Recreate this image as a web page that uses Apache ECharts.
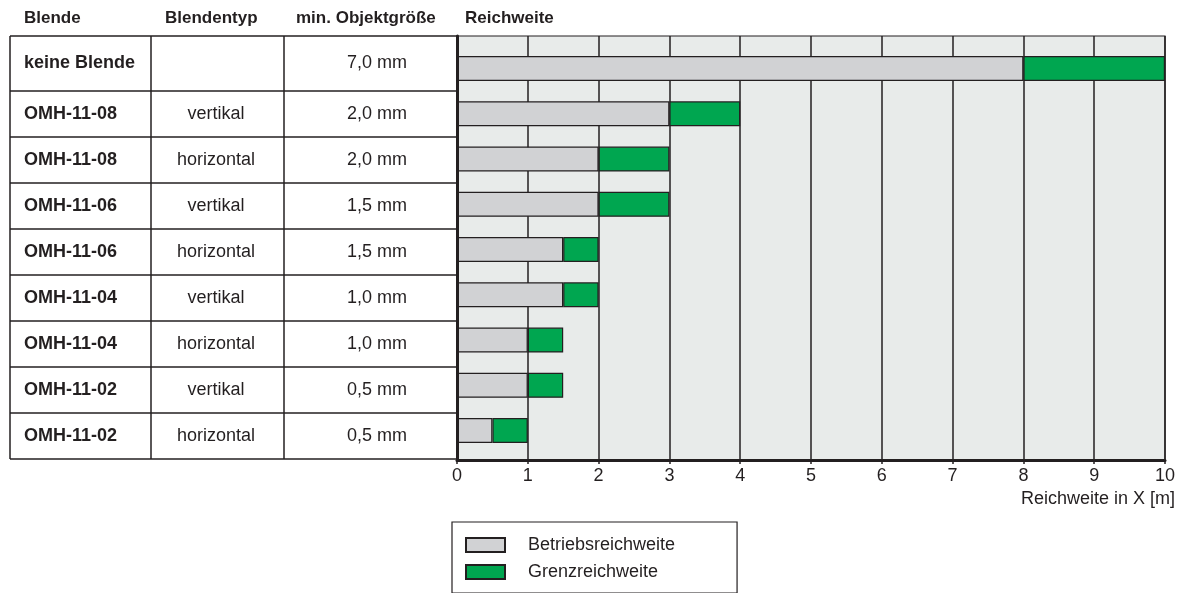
<!DOCTYPE html>
<html>
<head>
<meta charset="utf-8">
<script src="https://cdn.jsdelivr.net/npm/echarts@6/dist/echarts.min.js"></script>
<style>
  html, body { margin: 0; padding: 0; background: #fff; }
  #chart { width: 1181px; height: 593px; }
</style>
</head>
<body>
<div id="chart"></div>
<script>
// table columns
const blenden = ['keine Blende', 'OMH-11-08', 'OMH-11-08', 'OMH-11-06', 'OMH-11-06', 'OMH-11-04', 'OMH-11-04', 'OMH-11-02', 'OMH-11-02'];
const blendentyp = ['', 'vertikal', 'horizontal', 'vertikal', 'horizontal', 'vertikal', 'horizontal', 'vertikal', 'horizontal'];
const objektgroesse = ['7,0 mm', '2,0 mm', '2,0 mm', '1,5 mm', '1,5 mm', '1,0 mm', '1,0 mm', '0,5 mm', '0,5 mm'];
const headers = ['Blende', 'Blendentyp', 'min. Objektgröße', 'Reichweite'];

// range in m
const betriebsreichweite = [8, 3, 2, 2, 1.5, 1.5, 1, 1, 0.5];
const grenzreichweite = [10, 4, 3, 3, 2, 2, 1.5, 1.5, 1];
const grenzExtra = grenzreichweite.map((v, i) => v - betriebsreichweite[i]);
const xTicks = [0, 1, 2, 3, 4, 5, 6, 7, 8, 9, 10];

const FONT = '"Liberation Sans", Arial, Helvetica, sans-serif';
const INK = '#231f20';

// table layout
const rowLines = [36, 91, 137, 183, 229, 275, 321, 367, 413, 459];
const colLines = [10, 151, 284, 457];

const chart = echarts.init(document.getElementById('chart'));

const graphics = [];
// horizontal table lines
rowLines.forEach(y => {
  graphics.push({
    type: 'line', silent: true,
    shape: { x1: colLines[0], y1: y, x2: colLines[3], y2: y },
    style: { stroke: INK, lineWidth: 1.5 }
  });
});
// vertical table lines
colLines.slice(0, 3).forEach(x => {
  graphics.push({
    type: 'line', silent: true,
    shape: { x1: x, y1: rowLines[0], x2: x, y2: rowLines[rowLines.length - 1] },
    style: { stroke: INK, lineWidth: 1.5 }
  });
});
// headers
const headerX = [24, 165, 296, 465];
headers.forEach((h, i) => {
  graphics.push({
    type: 'text', silent: true, x: headerX[i], y: 18,
    style: { text: h, font: 'bold 17px ' + FONT, fill: INK, textAlign: 'left', textVerticalAlign: 'middle' }
  });
});
// cells
blenden.forEach((b, i) => {
  const cy = (rowLines[i] + rowLines[i + 1]) / 2;
  graphics.push({
    type: 'text', silent: true, x: 24, y: cy,
    style: { text: b, font: 'bold 18px ' + FONT, fill: INK, textAlign: 'left', textVerticalAlign: 'middle' }
  });
  graphics.push({
    type: 'text', silent: true, x: 216, y: cy,
    style: { text: blendentyp[i], font: '18px ' + FONT, fill: INK, textAlign: 'center', textVerticalAlign: 'middle' }
  });
  graphics.push({
    type: 'text', silent: true, x: 377, y: cy,
    style: { text: objektgroesse[i], font: '18px ' + FONT, fill: INK, textAlign: 'center', textVerticalAlign: 'middle' }
  });
});
// axis name
graphics.push({
  type: 'text', silent: true, x: 1175, y: 499,
  style: { text: 'Reichweite in X [m]', font: '18px ' + FONT, fill: INK, textAlign: 'right', textVerticalAlign: 'middle' }
});

const options = {
  animation: false,
  backgroundColor: '#ffffff',
  textStyle: { fontFamily: FONT },
  legend: {
    data: ['Betriebsreichweite', 'Grenzreichweite'],
    orient: 'vertical',
    left: 452,
    top: 522,
    icon: 'rect',
    itemWidth: 39,
    itemHeight: 14,
    itemGap: 9,
    padding: [14, 62, 12, 13],
    borderColor: INK,
    borderWidth: 1.2,
    selectedMode: false,
    textStyle: { fontSize: 18, color: INK, padding: [0, 0, 0, 18] }
  },
  grid: [
    // background / axes
    { left: 457, top: 36, width: 708, height: 424, show: true, backgroundColor: '#e8ebea', borderColor: INK, borderWidth: 1.2 },
    // bars
    { left: 457, top: 45.9, width: 708, height: 407.3 }
  ],
  xAxis: [
    {
      gridIndex: 0, type: 'value', min: 0, max: 10, interval: 1,
      axisLine: { show: true, lineStyle: { color: INK, width: 3 } },
      axisTick: { show: true, length: 4, lineStyle: { color: INK, width: 1.5 } },
      axisLabel: {
        fontSize: 18, color: INK, margin: 7,
        formatter: v => (xTicks.includes(v) ? String(v) : '')
      },
      splitLine: { show: true, lineStyle: { color: INK, width: 1.5 } }
    },
    {
      gridIndex: 1, type: 'value', min: 0, max: 10, show: false
    }
  ],
  yAxis: [
    {
      gridIndex: 0, type: 'value', min: 0, max: 1, z: 5,
      axisLine: { show: true, lineStyle: { color: INK, width: 3 } },
      axisTick: { show: false },
      axisLabel: { show: false },
      splitLine: { show: false }
    },
    {
      gridIndex: 1, type: 'category', data: blenden.map((b, i) => b + ' ' + blendentyp[i]),
      inverse: true, show: false
    }
  ],
  series: [
    {
      name: 'Betriebsreichweite', type: 'bar', stack: 'r',
      xAxisIndex: 1, yAxisIndex: 1, barWidth: 25,
      itemStyle: { color: '#d1d2d4', borderColor: INK, borderWidth: 1.2 },
      data: betriebsreichweite
    },
    {
      name: 'Grenzreichweite', type: 'bar', stack: 'r',
      xAxisIndex: 1, yAxisIndex: 1, barWidth: 25,
      itemStyle: { color: '#00a650', borderColor: INK, borderWidth: 1.2 },
      data: grenzExtra
    }
  ],
  graphic: graphics
};

chart.setOption(options);
</script>
</body>
</html>
